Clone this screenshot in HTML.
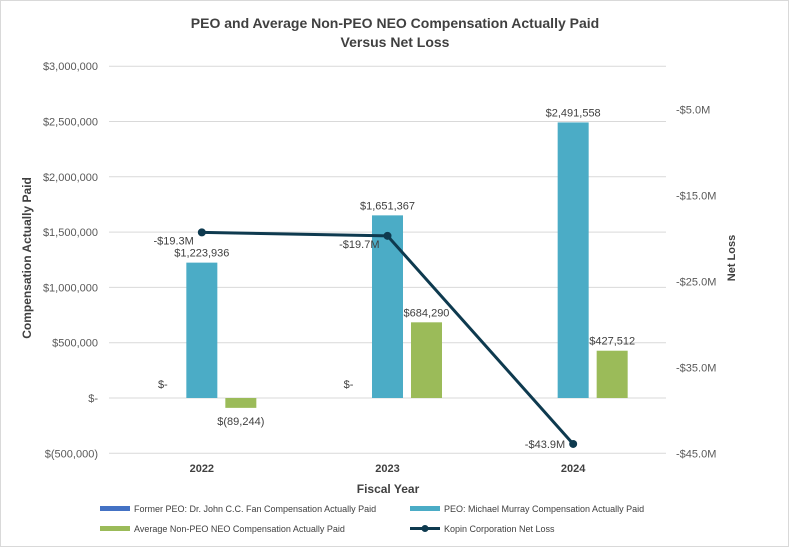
<!DOCTYPE html>
<html><head><meta charset="utf-8"><style>
body{margin:0;background:#fff;font-family:"Liberation Sans",sans-serif}
svg text{font-family:"Liberation Sans",sans-serif}
</style></head><body>
<svg width="789" height="547" viewBox="0 0 789 547">
<rect x="0.5" y="0.5" width="788" height="546" fill="#fff" stroke="#d9d9d9"/>
<text x="395" y="28" text-anchor="middle" font-size="14" font-weight="bold" fill="#404040">PEO and Average Non-PEO NEO Compensation Actually Paid</text>
<text x="395" y="47" text-anchor="middle" font-size="14" font-weight="bold" fill="#404040">Versus Net Loss</text>
<g id="grid"></g><g id="bars"></g><g id="line"></g><g id="labels"></g>
<text transform="translate(31,258) rotate(-90)" text-anchor="middle" font-size="12" font-weight="bold" fill="#404040">Compensation Actually Paid</text>
<text transform="translate(735,258) rotate(-90)" text-anchor="middle" font-size="11" font-weight="bold" fill="#404040">Net Loss</text>
<text x="388" y="493" text-anchor="middle" font-size="12" font-weight="bold" fill="#404040">Fiscal Year</text>
<g font-size="9" fill="#404040">
<rect x="100" y="506" width="30" height="5" fill="#4472c4"/>
<text x="134" y="512">Former PEO: Dr. John C.C. Fan Compensation Actually Paid</text>
<rect x="410" y="506" width="30" height="5" fill="#4bacc6"/>
<text x="444" y="512">PEO: Michael Murray Compensation Actually Paid</text>
<rect x="100" y="526" width="30" height="5" fill="#9bbb59"/>
<text x="134" y="532">Average Non-PEO NEO Compensation Actually Paid</text>
<line x1="410" y1="528.5" x2="440" y2="528.5" stroke="#0e3a4f" stroke-width="3"/>
<circle cx="425" cy="528.5" r="3.5" fill="#0e3a4f"/>
<text x="444" y="532">Kopin Corporation Net Loss</text>
</g>
</svg>
<script>
const years=["2022","2023","2024"];
const formerPeo=[0,0,null];
const peo=[1223936,1651367,2491558];
const nonPeo=[-89244,684290,427512];
const netLoss=[-19.3,-19.7,-43.9];
const leftTicks=[-500000,0,500000,1000000,1500000,2000000,2500000,3000000];
const rightTicks=[-5,-15,-25,-35,-45];
const NS="http://www.w3.org/2000/svg";
const x0=109,x1=666,band=(x1-x0)/years.length;
const yL=v=>398-v*(55.3/500000);
const yR=v=>66.4-v*8.6;
const cx=i=>x0+band*(i+0.5);
function mk(tag,a,p){const e=document.createElementNS(NS,tag);for(const k in a)e.setAttribute(k,a[k]);document.getElementById(p).appendChild(e);return e;}
const fmt=v=>v===0?"$-":v<0?"$("+(-v).toLocaleString("en-US")+")":"$"+v.toLocaleString("en-US");
leftTicks.forEach(t=>{
 const l=mk("line",{x1:x0,x2:x1,y1:yL(t),y2:yL(t),stroke:"#d9d9d9","stroke-width":1},"grid");
 
 
 const tx=mk("text",{x:98,y:yL(t)+4,"text-anchor":"end","font-size":11,fill:"#595959"},"grid");
 tx.textContent=fmt(t);
 
 
});
rightTicks.forEach(t=>{
 const tx=mk("text",{x:676,y:yR(t)+4,"font-size":11,fill:"#595959"},"grid");
 tx.textContent="-$"+(-t).toFixed(1)+"M";
 
 
});
years.forEach((y,i)=>{
 const tx=mk("text",{x:cx(i),y:472,"text-anchor":"middle","font-size":11,"font-weight":"bold",fill:"#404040"},"labels");
 tx.textContent=y;
 
 
 const series=[[formerPeo,"#4472c4",-39,"bar-former-peo"],[peo,"#4bacc6",0,"bar-peo"],[nonPeo,"#9bbb59",39,"bar-non-peo"]];
 series.forEach(([arr,col,off,nm])=>{
  const v=arr[i];
  if(v===null)return;
  const top=Math.min(yL(v),yL(0)),h=Math.abs(yL(v)-yL(0));
  const r=mk("rect",{x:cx(i)+off-15.5,y:top,width:31,height:h,fill:col},"bars");
  
  
  const ly=v>=0?top-6:yL(v)+17;
  const lb=mk("text",{x:cx(i)+off,y:v===0?yL(0)-10:ly,"text-anchor":"middle","font-size":11,fill:"#404040"},"labels");
  lb.textContent=fmt(v);
  
  
 });
});
const pts=netLoss.map((v,i)=>cx(i)+","+yR(v)).join(" ");
const pl=mk("polyline",{points:pts,fill:"none",stroke:"#0e3a4f","stroke-width":3},"line");


netLoss.forEach((v,i)=>{
 const c=mk("circle",{cx:cx(i),cy:yR(v),r:4,fill:"#0e3a4f"},"line");
 
 
 const t=mk("text",{x:cx(i)-8,y:yR(v)+(i==2?4:12),"text-anchor":"end","font-size":11,fill:"#404040"},"labels");
 t.textContent="-$"+(-v).toFixed(1)+"M";
 
 
});
</script>
</body></html>
